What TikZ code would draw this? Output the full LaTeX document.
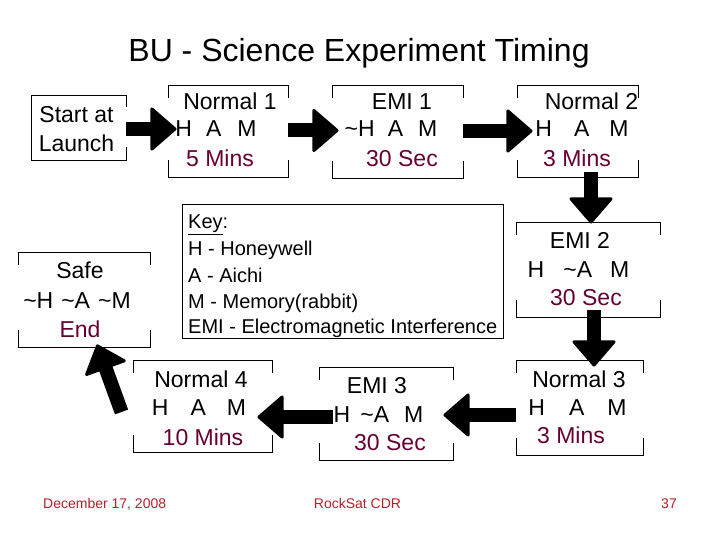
\documentclass[tikz,border=0pt]{standalone}
\usepackage{fontspec}
\setmainfont{Liberation Sans}
\usetikzlibrary{arrows.meta,calc}
\definecolor{durcol}{RGB}{102,0,51}
\definecolor{footcol}{RGB}{185,30,40}
\newcommand\tld{\textasciitilde}
\begin{document}
\begin{tikzpicture}[x=1pt,y=-1pt,
  box/.style n args={2}{draw=black, line width=0.9pt, inner sep=0pt, minimum width=#1, minimum height=#2},
  lbl/.style={inner sep=0pt, anchor=base, font=\fontsize{23}{27}\selectfont},
  dur/.style={lbl, text=durcol},
  keytxt/.style={inner sep=0pt, anchor=base west, font=\fontsize{20}{24}\selectfont},
  foot/.style={inner sep=0pt, text=footcol, font=\fontsize{14}{16}\selectfont},
  bigarrow/.style={line width=14pt, -{Triangle[width=46pt,length=27pt,line width=3pt,round]}},
  cover/.style={fill=white}]
\fill[white] (0,0) rectangle (720,540);
\useasboundingbox (0,0) rectangle (720,540);

% title
\node[inner sep=0pt, anchor=base, font=\fontsize{32}{36}\selectfont] (title) at (359,62) {BU - Science Experiment Timing};

% boxes
\node[box={95}{65}]   (start) at (78.5,127.5) {};
\node[box={120}{92}]  (n1)    at (228,131) {};
\node[box={131}{93}]  (emi1)  at (397.5,131.5) {};
\node[box={121}{92}]  (n2)    at (577.5,131) {};
\node[box={321}{134}] (key)   at (342.5,271) {};
\node[box={132}{95}]  (safe)  at (84,299.5) {};
\node[box={144}{95}]  (emi2)  at (588,269.5) {};
\node[box={127}{95}]  (n3)    at (579.5,407.5) {};
\node[box={139}{92}]  (n4)    at (202.5,406) {};
\node[box={134}{93}]  (emi3)  at (386,413.5) {};

% white text-box backgrounds that hide parts of the side borders
\fill[cover] ($(start.north west)+(2,12)$) rectangle ($(start.south east)+(3,-13)$);
\foreach \b in {n1,emi1,n2,safe,emi2,n3,n4,emi3}
  \fill[cover] ($(\b.north west)+(-3,13)$) rectangle ($(\b.south east)+(3,-17)$);

% texts
\node[lbl] (starta) at (76.5,123) {Start at};
\node[lbl] (startb) at (76.5,152) {Launch};

\node[lbl] (n1a) at (230,110) {Normal 1};
\node[lbl] (n1b) at (216,137) {H\hspace{14pt}A\hspace{16pt}M};
\node[dur] (n1c) at (220,167) {5 Mins};

\node[lbl] (emi1a) at (402,110) {EMI 1};
\node[lbl] (emi1b) at (391,137) {\tld H\hspace{13pt}A\hspace{15pt}M};
\node[dur] (emi1c) at (402,167) {30 Sec};

\node[lbl] (n2a) at (591.5,110) {Normal 2};
\node[lbl] (n2b) at (582,137) {H\hspace{22pt}A\hspace{20pt}M};
\node[dur] (n2c) at (577,167) {3 Mins};

\node[lbl] (safea) at (80,278) {Safe};
\node[lbl] (safeb) at (77,308) {\tld H\hspace{8pt}\tld A\hspace{8pt}\tld M};
\node[dur] (safec) at (80,337) {End};

\node[lbl] (emi2a) at (580,248) {EMI 2};
\node[lbl] (emi2b) at (578.5,277) {H\hspace{19pt}\tld A\hspace{18pt}M};
\node[dur] (emi2c) at (586,305) {30 Sec};

\node[lbl] (n3a) at (579,387) {Normal 3};
\node[lbl] (n3b) at (577.5,415) {H\hspace{24pt}A\hspace{23pt}M};
\node[dur] (n3c) at (571,443) {3 Mins};

\node[lbl] (n4a) at (201,387) {Normal 4};
\node[lbl] (n4b) at (199,415) {H\hspace{22pt}A\hspace{21pt}M};
\node[dur] (n4c) at (203,445) {10 Mins};

\node[lbl] (emi3a) at (377,393) {EMI 3};
\node[lbl] (emi3b) at (378.5,422) {H\hspace{10pt}\tld A\hspace{15pt}M};
\node[dur] (emi3c) at (390,450) {30 Sec};

% key
\node[keytxt] (k0) at (188,229) {\underline{Key}:};
\node[keytxt] (k1) at (188,255) {H - Honeywell};
\node[keytxt] (k2) at (188,282) {A - Aichi};
\node[keytxt] (k3) at (188,308) {M - Memory(rabbit)};
\node[keytxt] (k4) at (188,333) {EMI - Electromagnetic Interference};

% arrows
\coordinate (a1e) at ($(n1.west)+(9,-2)$);
\draw[bigarrow] (start.east |- a1e) -- (a1e);
\coordinate (a2e) at ($(emi1.west)+(7,-1)$);
\draw[bigarrow] (n1.east |- a2e) -- (a2e);
\coordinate (a3e) at ($(n2.west)+(16,0)$);
\draw[bigarrow] (emi1.east |- a3e) -- (a3e);
\coordinate (a4e) at ($(emi2.north)+(3,2)$);
\coordinate (a4s) at ($(n2.south -| a4e)+(0,-5)$);
\draw[bigarrow] (a4s) -- (a4e);
\coordinate (a5s) at ($(emi2.south)+(6,-7)$);
\coordinate (a5e) at ($(n3.north -| a5s)+(0,7)$);
\draw[bigarrow] (a5s) -- (a5e);
\coordinate (a6e) at ($(emi3.east)+(-10,1.5)$);
\draw[bigarrow] (n3.west |- a6e) -- (a6e);
\coordinate (a7s) at ($(emi3.west)+(14,3.5)$);
\coordinate (a7e) at ($(n4.east |- a7s)+(-15,0)$);
\draw[bigarrow] (a7s) -- (a7e);
\coordinate (a8s) at ($(n4.west)+(-11,6)$);
\coordinate (a8e) at ($(safe.south)+(13,-3)$);
\draw[bigarrow] (a8s) -- (a8e);

% footer
\node[foot, anchor=base west] (date) at (43,508) {December 17, 2008};
\node[foot, anchor=base] (conf) at (357.5,508) {RockSat CDR};
\node[foot, anchor=base east] (page) at (677,508) {37};
\end{tikzpicture}
\end{document}
